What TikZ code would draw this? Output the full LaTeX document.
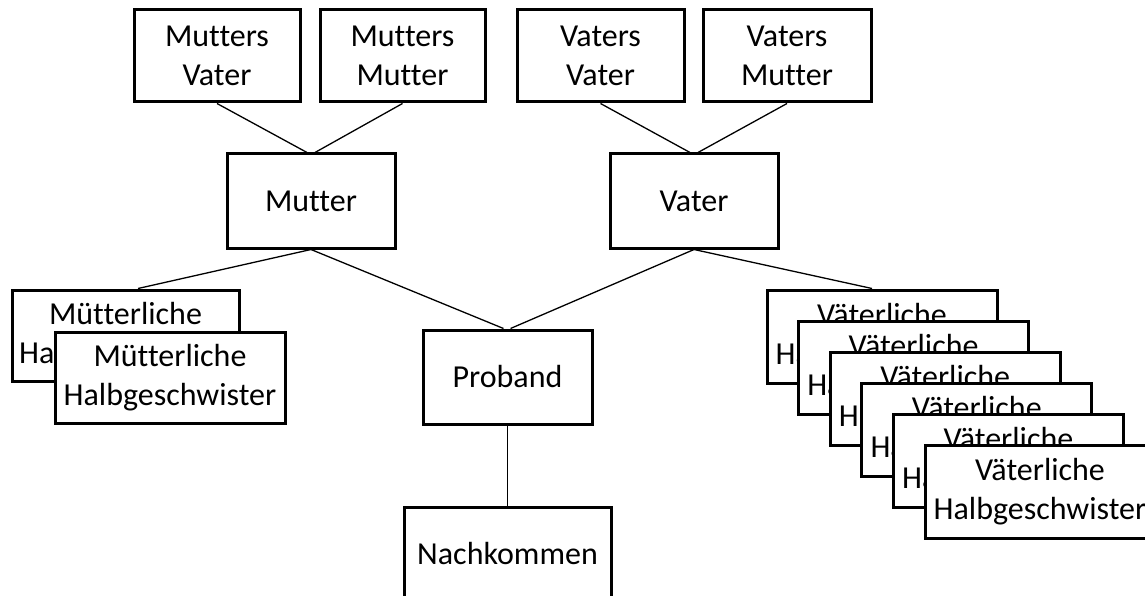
\documentclass[tikz,border=0pt]{standalone}
\usepackage{fontspec}
\setmainfont{Carlito}[Ligatures={NoCommon}]
\begin{document}
\begin{tikzpicture}[x=1pt,y=-1pt,
  box/.style={draw=black, line width=3pt, fill=white, rectangle, inner sep=0pt,
    align=center, text=black, font=\fontsize{32}{38.8}\selectfont},
  link/.style={draw=black, line width=1.3pt}]
\useasboundingbox (0,0) rectangle (1145,596);
\clip (0,0) rectangle (1145,596);
% grandparents
\node[box, minimum width=166pt, minimum height=92pt] (mv) at (217,56) {Mutters\\Vater};
\node[box, minimum width=165pt, minimum height=92pt] (mm) at (402.5,56) {Mutters\\Mutter};
\node[box, minimum width=167pt, minimum height=92pt] (vv) at (600.5,56) {Vaters\\Vater};
\node[box, minimum width=168pt, minimum height=92pt] (vm) at (787,56) {Vaters\\Mutter};
% parents
\node[box, minimum width=168pt, minimum height=94pt] (mutter) at (311,201) {Mutter};
\node[box, minimum width=168pt, minimum height=94pt] (vater) at (694,201) {Vater};
% proband and descendants
\node[box, minimum width=169pt, minimum height=94pt] (proband) at (507.5,377) {Proband};
\node[box, minimum width=207pt, minimum height=93pt] (nach) at (507.5,553.5) {Nachkommen};
% maternal half siblings
\node[box, minimum width=227pt, minimum height=91pt] (mh1) at (125.5,335.5) {Mütterliche\\Halbgeschwister};
\node[box, minimum width=230pt, minimum height=91pt] (mh2) at (170,377.5) {Mütterliche\\Halbgeschwister};
% paternal half siblings
\node[box, minimum width=230pt, minimum height=93pt] (vh1) at (882,336.5) {Väterliche\\Halbgeschwister};
\node[box, minimum width=230pt, minimum height=93pt] (vh2) at (913.6,367.5) {Väterliche\\Halbgeschwister};
\node[box, minimum width=230pt, minimum height=93pt] (vh3) at (945.2,398.5) {Väterliche\\Halbgeschwister};
\node[box, minimum width=230pt, minimum height=93pt] (vh4) at (976.8,429.5) {Väterliche\\Halbgeschwister};
\node[box, minimum width=230pt, minimum height=93pt] (vh5) at (1008.4,460.5) {Väterliche\\Halbgeschwister};
\node[box, minimum width=230pt, minimum height=93pt] (vh6) at (1040,491.5) {Väterliche\\Halbgeschwister};
% connectors
\draw[link] (mv.south) -- ([xshift=-4pt]mutter.north);
\draw[link] (mm.south) -- ([xshift=4pt]mutter.north);
\draw[link] (vv.south) -- ([xshift=-4pt]vater.north);
\draw[link] (vm.south) -- ([xshift=4pt]vater.north);
\draw[link] (mutter.south) -- ([xshift=12.5pt]mh1.north);
\draw[link] (mutter.south) -- ([xshift=-4pt]proband.north);
\draw[link] (vater.south) -- ([xshift=3pt]proband.north);
\draw[link] (vater.south) -- ([xshift=-10pt]vh1.north);
\draw[link] (proband.south) -- (nach.north);
\end{tikzpicture}
\end{document}
